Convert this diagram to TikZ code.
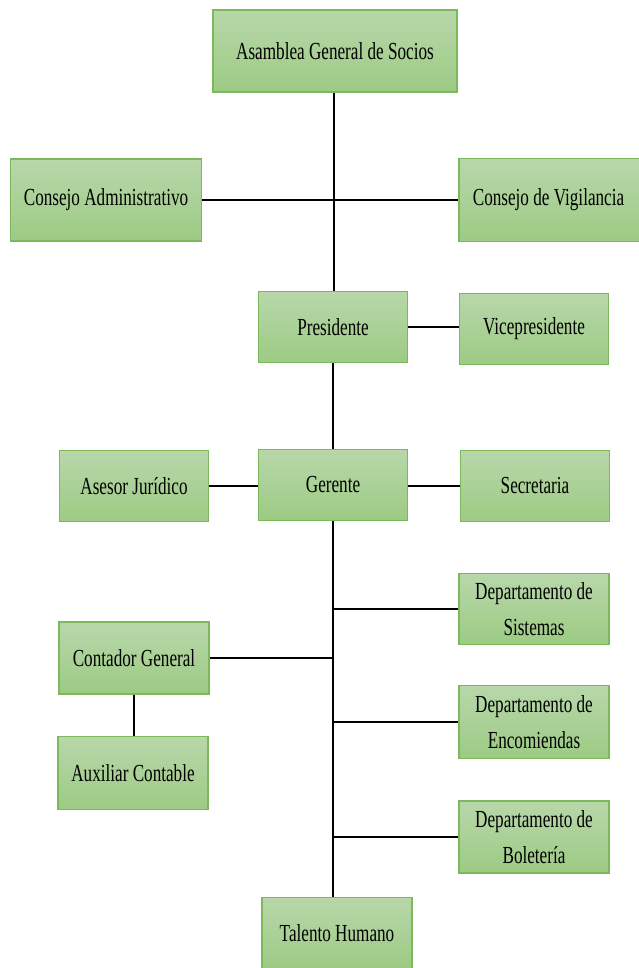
\documentclass[tikz,border=0pt]{standalone}
\usepackage{fontspec}
\newfontfamily\boxfont[FakeStretch=0.7]{Liberation Serif}
\definecolor{boxtop}{RGB}{184,215,170}
\definecolor{boxbot}{RGB}{156,203,131}
\definecolor{boxline}{RGB}{125,184,92}
\begin{document}
\begin{tikzpicture}[x=1pt,y=-1pt,
  orgbox/.style={rectangle, draw=boxline, line width=1.3pt, top color=boxtop, bottom color=boxbot,
    minimum width=149pt, minimum height=71pt, align=center, inner sep=2pt,
    font=\boxfont\fontsize{24.5pt}{36pt}\selectfont},
  link/.style={draw=black, line width=1.5pt}]
\useasboundingbox (0,0) rectangle (639,968);
\fill[white] (0,0) rectangle (639,968);
\node[orgbox, minimum width=244pt, minimum height=82pt] (asam) at (335,51) {Asamblea General de Socios};
\node[orgbox, minimum width=191pt, minimum height=82pt] (cadm) at (106,200) {Consejo Administrativo};
\node[orgbox, minimum width=182pt, minimum height=83pt] (cvig) at (550,200) {\hspace*{-3pt}Consejo de Vigilancia};
\node[orgbox] (pres) at (333,327) {Presidente};
\node[orgbox] (vice) at (534,329) {Vicepresidente};
\node[orgbox] (ger) at (333,485) {Gerente};
\node[orgbox] (ases) at (134,486) {Asesor Jurídico};
\node[orgbox] (secr) at (535,486) {Secretaria};
\node[orgbox, minimum width=150pt] (dsis) at (534,609) {Departamento de\\Sistemas};
\node[orgbox, minimum width=150pt, minimum height=73pt] (denc) at (534,722) {Departamento de\\Encomiendas};
\node[orgbox, minimum width=150pt, minimum height=72pt] (dbol) at (534,837) {Departamento de\\Boletería};
\node[orgbox, minimum width=150pt, minimum height=72pt] (cont) at (134,658) {Contador General};
\node[orgbox, minimum width=150pt, minimum height=73pt] (aux) at (133,773) {Auxiliar Contable};
\node[orgbox, minimum width=150pt, minimum height=71pt] (tal) at (337,933) {Talento Humano};
% connectors
\draw[link] (asam.south -| 334,0) -- (334,0 |- pres.north);
\draw[link] (cadm.east) -- (cvig.west);
\draw[link] (pres.east) -- (vice.west |- pres.east);
\draw[link] (pres.south) -- (ger.north);
\draw[link] (ases.east) -- (ger.west |- ases.east);
\draw[link] (ger.east |- secr.west) -- (secr.west);
\draw[link] (ger.south) -- (ger.south |- tal.north);
\draw[link] (ger.south |- dsis.west) -- (dsis.west);
\draw[link] (ger.south |- denc.west) -- (denc.west);
\draw[link] (ger.south |- dbol.west) -- (dbol.west);
\draw[link] (cont.east) -- (ger.south |- cont.east);
\draw[link] (cont.south) -- (cont.south |- aux.north);
\end{tikzpicture}
\end{document}
